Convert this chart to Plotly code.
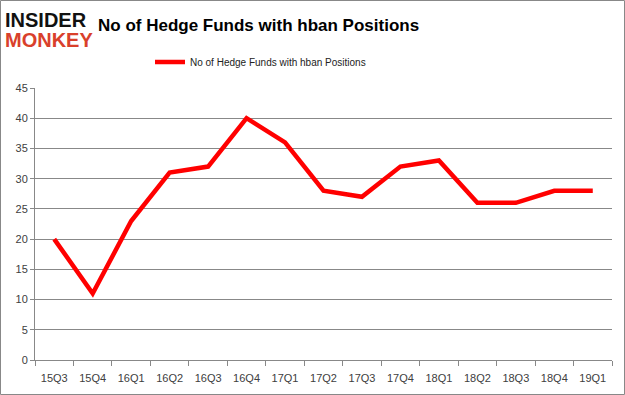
import plotly.graph_objects as go

quarters = ["15Q3", "15Q4", "16Q1", "16Q2", "16Q3", "16Q4", "17Q1", "17Q2",
            "17Q3", "17Q4", "18Q1", "18Q2", "18Q3", "18Q4", "19Q1"]
funds = [20, 11, 23, 31, 32, 40, 36, 28, 27, 32, 33, 26, 26, 28, 28]
series_name = "No of Hedge Funds with hban Positions"
y_ticks = [0, 5, 10, 15, 20, 25, 30, 35, 40, 45]

W, H = 625, 395
ML, MR, MT, MB = 35, 13, 88, 35
PW, PH = W - ML - MR, H - MT - MB

fig = go.Figure()
fig.add_trace(go.Scatter(
    x=quarters, y=funds, mode="lines", name=series_name,
    line=dict(color="#ff0000", width=4.5),
))

fig.update_layout(
    width=W, height=H,
    margin=dict(l=ML, r=MR, t=MT, b=MB, autoexpand=False),
    paper_bgcolor="white", plot_bgcolor="white",
    font=dict(family="Liberation Sans, Arial, sans-serif", color="#404040", size=11),
    showlegend=True,
    legend=dict(orientation="h", xref="container", yref="container",
                x=150 / W, xanchor="left", y=1 - 62 / H,
                yanchor="middle", font=dict(size=10, color="#222"),
                bgcolor="rgba(0,0,0,0)"),
    xaxis=dict(
        type="category", showgrid=False, showline=True, linecolor="#888888",
        linewidth=1, ticks="outside", ticklen=5, tickcolor="#888888",
        tickson="boundaries", tickfont=dict(size=11, color="#404040"),
        ticklabelstandoff=8, range=[-0.5, len(quarters) - 0.5],
    ),
    yaxis=dict(
        range=[0, 45], tickvals=y_ticks, showgrid=True, gridcolor="#888888",
        gridwidth=1, showline=True, linecolor="#888888", linewidth=1,
        ticks="outside", ticklen=4, tickcolor="#888888",
        tickfont=dict(size=11, color="#404040"), zeroline=False,
    ),
)

# Title
fig.add_annotation(
    text="<b>No of Hedge Funds with hban Positions</b>", xref="paper", yref="paper",
    x=(96 - ML) / PW, y=1.0 + (MT - 26) / PH,
    xanchor="left", yanchor="middle", showarrow=False,
    font=dict(family="Liberation Sans, Arial, sans-serif", size=17, color="#000000"),
)

# Logo
fig.add_annotation(
    text="<b>INSIDER</b>", xref="paper", yref="paper",
    x=(3 - ML) / PW, y=1.0 + (MT - 20) / PH, xanchor="left", yanchor="middle",
    showarrow=False,
    font=dict(family="Liberation Sans, Arial, sans-serif", size=20, color="#111111"),
)
fig.add_annotation(
    text="<b>MONKEY</b>", xref="paper", yref="paper",
    x=(3 - ML) / PW, y=1.0 + (MT - 40) / PH, xanchor="left", yanchor="middle",
    showarrow=False,
    font=dict(family="Liberation Sans, Arial, sans-serif", size=20, color="#d9402b"),
)

# Outer border
fig.add_shape(
    type="rect", xref="paper", yref="paper",
    x0=(0.5 - ML) / PW, x1=(W - 0.5 - ML) / PW,
    y0=-(MB - 0.5) / PH, y1=1.0 + (MT - 0.5) / PH,
    line=dict(color="#888888", width=1), fillcolor="rgba(0,0,0,0)", layer="below",
)

fig.write_html("out.html", config={"displayModeBar": False},
               post_script="document.body.style.margin='0';")
